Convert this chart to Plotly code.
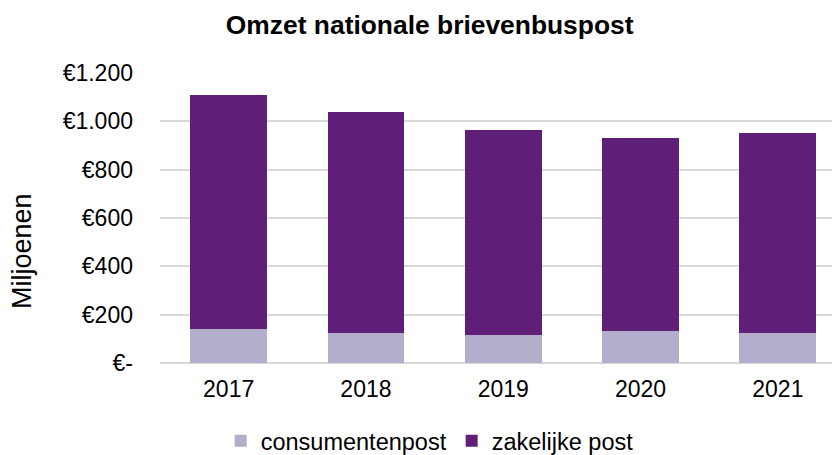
import plotly.graph_objects as go

years = ["2017", "2018", "2019", "2020", "2021"]
consumentenpost = [139, 123, 114, 134, 126]
zakelijke_post = [971, 914, 852, 795, 825]
tick_values = [0, 200, 400, 600, 800, 1000, 1200]
tick_labels = ["€-", "€200", "€400", "€600", "€800", "€1.000", "€1.200"]

FONT = "Liberation Sans, Arial, sans-serif"

fig = go.Figure()
fig.add_trace(go.Bar(name="consumentenpost", x=years, y=consumentenpost,
                     marker=dict(color="#B2AECB", line=dict(width=0))))
fig.add_trace(go.Bar(name="zakelijke post", x=years, y=zakelijke_post,
                     marker=dict(color="#5F1F79", line=dict(width=0))))

fig.update_layout(
    barmode="stack",
    bargap=0.44,
    width=840, height=455,
    paper_bgcolor="white", plot_bgcolor="white",
    margin=dict(l=152, r=0, t=65, b=100, autoexpand=False),
    font=dict(family=FONT, size=23, color="#000000"),
    title=dict(text="<b>Omzet nationale brievenbuspost</b>", x=0.502, xref="container",
               y=0.9626, yref="container", xanchor="center", yanchor="middle",
               font=dict(family=FONT, size=26.4, color="#000000")),
    xaxis=dict(type="category", range=[-0.5, 4.511], showgrid=False,
               showline=False, ticks="", tickfont=dict(size=23), automargin=False,
               ticklabelstandoff=10),
    yaxis=dict(range=[0, 1200], tickvals=tick_values, ticktext=tick_labels,
               showgrid=True, gridcolor="#D9D9D9", gridwidth=1.5,
               zeroline=True, zerolinecolor="#D9D9D9", zerolinewidth=1.5,
               showline=False, ticks="", ticklabelstandoff=26,
               tickfont=dict(size=23), automargin=False),
    legend=dict(orientation="h", traceorder="normal", x=0.502, xref="container",
                xanchor="center", y=-0.269, yref="paper", yanchor="middle",
                font=dict(size=23.5), itemwidth=30, bgcolor="rgba(0,0,0,0)"),
    annotations=[dict(text="Miljoenen", textangle=-90, xref="paper", yref="paper",
                      x=-0.2006, y=0.386, xanchor="center", yanchor="middle",
                      showarrow=False, font=dict(size=27))],
)

fig.write_html("out.html")
